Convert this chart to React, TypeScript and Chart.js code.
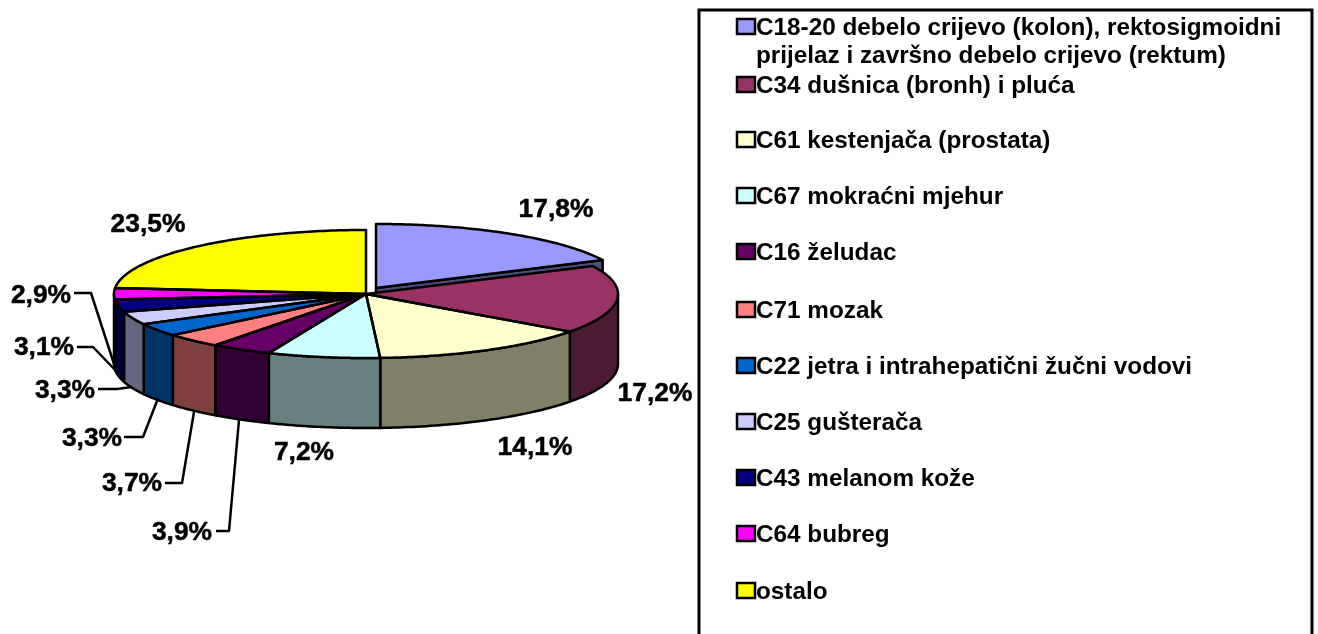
import React, { useEffect, useRef } from "react";
import { Chart, registerables } from "chart.js";

Chart.register(...registerables);

const categories = [
  ["C18-20 debelo crijevo (kolon), rektosigmoidni", "prijelaz i završno debelo crijevo (rektum)"],
  ["C34 dušnica (bronh) i pluća"],
  ["C61 kestenjača (prostata)"],
  ["C67 mokraćni mjehur"],
  ["C16 želudac"],
  ["C71 mozak"],
  ["C22 jetra i intrahepatični žučni vodovi"],
  ["C25 gušterača"],
  ["C43 melanom kože"],
  ["C64 bubreg"],
  ["ostalo"],
];
const shares = [17.8, 17.2, 14.1, 7.2, 3.9, 3.7, 3.3, 3.3, 3.1, 2.9, 23.5];
const topColors = ["#9999FF", "#993366", "#FFFFCC", "#CCFFFF", "#660066", "#FF8080", "#0066CC", "#CCCCFF", "#000080", "#FF00FF", "#FFFF00"];
const sideColors = ["#4D4D80", "#4D1A33", "#808066", "#668080", "#330033", "#804040", "#003366", "#666680", "#000040", "#800080", "#808000"];

// Layout of the drawing (not data)
const SQUASH = 0.254;
const DEPTH = 70;
const EXPLODE_X = 10;
const EXPLODE_Y = -6;
const labelCentres = [[556, 210], [655, 394], [535, 448], [304, 453], [182, 533], [132, 484], [92, 439], [65, 391], [44, 348], [41, 296], [148, 225]];
const leaders: (number[][] | null)[] = [
  null, null, null, null,
  [[216, 531], [229, 531], [239, 420]],
  [[165, 483], [182, 483], [194, 412]],
  [[124, 437], [143, 437], [157, 401]],
  [[98, 389], [117, 389], [132, 387]],
  [[77, 347], [93, 347], [118, 373]],
  [[74, 293], [91, 293], [115, 367]],
  null,
];
const legendRows = [27, 85, 140, 196, 252, 310, 366, 422, 478, 534, 591];
const LEGEND_LINE2 = 55;

const FONT = '"Liberation Sans", Arial, sans-serif';

const pie3d = {
  id: "pie3d",
  afterDatasetsUpdate(chart: any) {
    const el = chart.getDatasetMeta(0).data[0];
    el.x += EXPLODE_X;
    el.y += EXPLODE_Y / SQUASH;
  },
  beforeDatasetsDraw(chart: any) {
    const { ctx } = chart;
    const arcs = chart.getDatasetMeta(0).data;
    const cy = (chart.chartArea.top + chart.chartArea.bottom) / 2;
    const sx = (a: any, t: number, r = a.outerRadius) => a.x + r * Math.cos(t);
    const sy = (a: any, t: number, r = a.outerRadius) => cy + SQUASH * (a.y - cy + r * Math.sin(t));
    ctx.save();
    ctx.lineWidth = 2.5;
    ctx.strokeStyle = "#000";
    ctx.lineJoin = "round";
    arcs.forEach((a: any, i: number) => {
      ctx.fillStyle = sideColors[i];
      if (i === 0) {
        ctx.beginPath();
        ctx.moveTo(sx(a, 0, 0), sy(a, 0, 0));
        ctx.lineTo(sx(a, a.endAngle), sy(a, a.endAngle));
        ctx.lineTo(sx(a, a.endAngle), sy(a, a.endAngle) + DEPTH);
        ctx.lineTo(sx(a, 0, 0), sy(a, 0, 0) + DEPTH);
        ctx.closePath();
        ctx.fill();
        ctx.stroke();
      }
      const from = Math.max(a.startAngle, 0);
      const to = Math.min(a.endAngle, Math.PI);
      if (to <= from) return;
      const steps = 48;
      ctx.beginPath();
      for (let s = 0; s <= steps; s++) {
        const t = from + ((to - from) * s) / steps;
        ctx.lineTo(sx(a, t), sy(a, t));
      }
      for (let s = steps; s >= 0; s--) {
        const t = from + ((to - from) * s) / steps;
        ctx.lineTo(sx(a, t), sy(a, t) + DEPTH);
      }
      ctx.closePath();
      ctx.fill();
      ctx.stroke();
    });
    ctx.restore();
    ctx.save();
    ctx.translate(0, cy);
    ctx.scale(1, SQUASH);
    ctx.translate(0, -cy);
  },
  afterDatasetsDraw(chart: any) {
    const { ctx } = chart;
    ctx.restore();
    const arcs = chart.getDatasetMeta(0).data;
    const cy = (chart.chartArea.top + chart.chartArea.bottom) / 2;
    ctx.save();
    ctx.lineWidth = 2.5;
    ctx.strokeStyle = "#000";
    ctx.lineJoin = "round";
    arcs.forEach((a: any) => {
      const steps = 96;
      ctx.beginPath();
      ctx.moveTo(a.x, cy + SQUASH * (a.y - cy));
      for (let s = 0; s <= steps; s++) {
        const t = a.startAngle + ((a.endAngle - a.startAngle) * s) / steps;
        ctx.lineTo(a.x + a.outerRadius * Math.cos(t), cy + SQUASH * (a.y - cy + a.outerRadius * Math.sin(t)));
      }
      ctx.closePath();
      ctx.stroke();
    });
    leaders.forEach((pts) => {
      if (!pts) return;
      ctx.beginPath();
      pts.forEach((p, k) => (k ? ctx.lineTo(p[0], p[1]) : ctx.moveTo(p[0], p[1])));
      ctx.stroke();
    });
    ctx.fillStyle = "#000";
    ctx.font = `bold 26.4px ${FONT}`;
    ctx.textAlign = "center";
    ctx.textBaseline = "middle";
    ctx.lineWidth = 0.5;
    shares.forEach((v, i) => {
      const t = v.toFixed(1).replace(".", ",") + "%";
      ctx.fillText(t, labelCentres[i][0], labelCentres[i][1]);
      ctx.strokeText(t, labelCentres[i][0], labelCentres[i][1]);
    });
    ctx.restore();
  },
  afterDraw(chart: any) {
    const { ctx } = chart;
    ctx.save();
    ctx.strokeStyle = "#000";
    ctx.lineWidth = 3;
    ctx.beginPath();
    ctx.moveTo(699, 640);
    ctx.lineTo(699, 10);
    ctx.lineTo(1312, 10);
    ctx.lineTo(1312, 640);
    ctx.stroke();
    ctx.font = `bold 24.3px ${FONT}`;
    ctx.textAlign = "left";
    ctx.textBaseline = "middle";
    categories.forEach((lines, i) => {
      const y = legendRows[i];
      ctx.fillStyle = topColors[i];
      ctx.fillRect(737, y - 8, 18, 15);
      ctx.lineWidth = 2.5;
      ctx.strokeRect(737, y - 8, 18, 15);
      ctx.fillStyle = "#000";
      lines.forEach((t, k) => ctx.fillText(t, 756, (k ? LEGEND_LINE2 : y) + 1));
    });
    ctx.restore();
  },
};

export default function App() {
  const ref = useRef<HTMLCanvasElement>(null);
  useEffect(() => {
    const chart = new Chart(ref.current!, {
      type: "pie",
      data: {
        labels: categories.map((c) => c.join(" ")),
        datasets: [
          {
            data: shares,
            backgroundColor: topColors,
            borderWidth: 0,
            hoverOffset: 0,
            clip: false,
          } as any,
        ],
      },
      options: {
        responsive: false,
        animation: false,
        events: [],
        layout: { padding: { left: 114, right: 700, top: 42, bottom: 88 } },
        plugins: { legend: { display: false }, tooltip: { enabled: false } },
      },
      plugins: [pie3d],
    });
    return () => chart.destroy();
  }, []);
  return (
    <canvas
      ref={ref}
      width={1318}
      height={634}
      style={{ position: "fixed", left: 0, top: 0, width: 1318, height: 634, background: "#fff" }}
    />
  );
}
